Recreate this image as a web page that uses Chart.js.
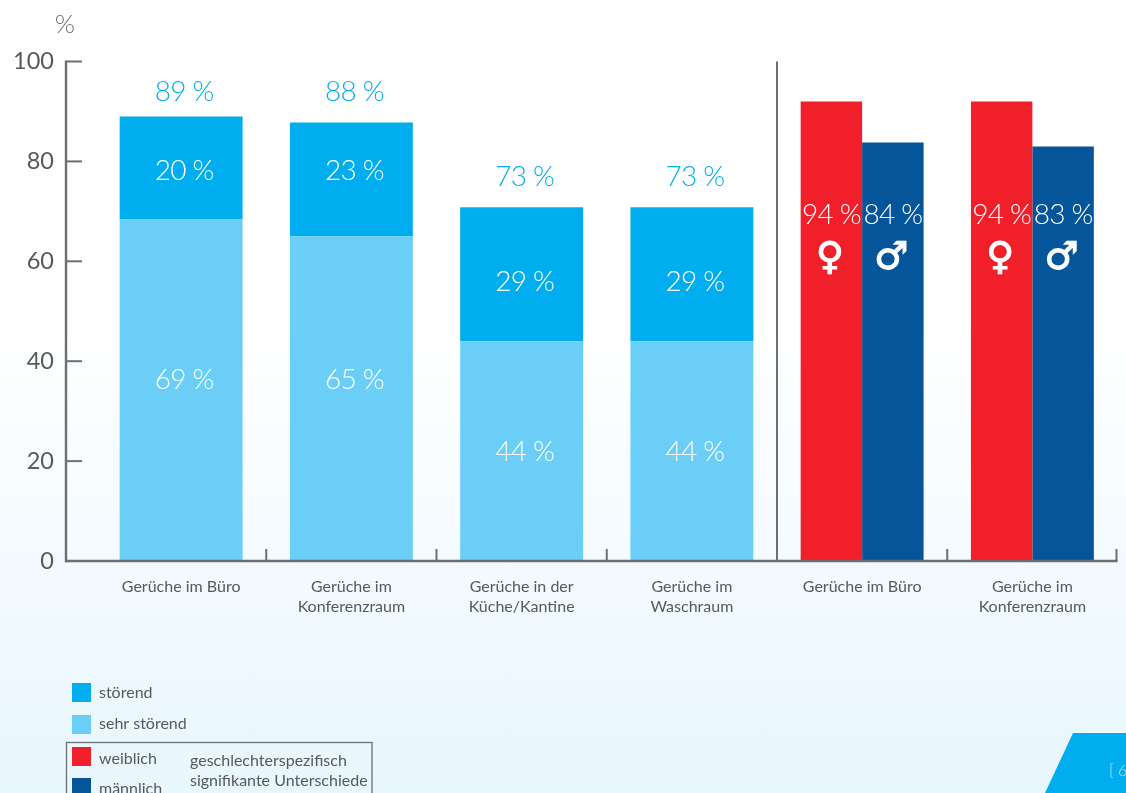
<!DOCTYPE html>
<html lang="de"><head><meta charset="utf-8">
<script src="https://cdn.jsdelivr.net/npm/chart.js@4/dist/chart.umd.min.js"></script>
<style>
html,body{margin:0;padding:0;width:1126px;height:793px;overflow:hidden;background:linear-gradient(to bottom,#fff 0,#fff 330px,#e8f6fe 793px)}
canvas{display:block}
</style></head><body>
<canvas id="c" width="1126" height="793"></canvas>
<script>
const categories=[["Gerüche im Büro"],["Gerüche im","Konferenzraum"],["Gerüche in der","Küche/Kantine"],["Gerüche im","Waschraum"],["Gerüche im Büro"],["Gerüche im","Konferenzraum"]];
const sehrStoerend=[68.4,65,44,44,null,null];
const stoerend=[20.6,22.8,26.8,26.8,null,null];
const weiblich=[null,null,null,null,92,92];
const maennlich=[null,null,null,null,83.8,83];
const yTicks=[0,20,40,60,80,100];
// printed labels differ from the bar heights in the source
const totalLabels=["89 %","88 %","73 %","73 %"];
const stoerendLabels=["20 %","23 %","29 %","29 %"];
const sehrLabels=["69 %","65 %","44 %","44 %"];
const weiblichLabels=["94 %","94 %"];
const maennlichLabels=["84 %","83 %"];
// label anchors on the value axis
const totalAt=[94,94,76.8,76.8];
const stoerendAt=[78,78,55.8,55.8];
const sehrAt=[36.2,36.2,21.8,21.8];
const genderTextAt=69.2, genderSymbolAt=60.4;

const CY="#00aeef",CL="#6bcef7",CR="#f01f2a",CD="#04559a",AX="#6d6e71",TX="#58595b";
const FONT='Lato';
const overlay={id:"overlay",
 afterDatasetsDraw(ch){
  const c=ch.ctx,x=ch.scales.x,y=ch.scales.y,B=y.getPixelForValue(0),T=y.getPixelForValue(100);
  c.save();
  c.strokeStyle=AX;c.lineWidth=2.4;c.lineCap="butt";
  const L=66;
  const line=(a,b,d,e)=>{c.beginPath();c.moveTo(a,b);c.lineTo(d,e);c.stroke();};
  line(L,T-1,L,B+1.2);line(L-1,B,x.right,B);
  yTicks.forEach(v=>{if(v>0){const p=y.getPixelForValue(v);c.lineWidth=2;line(L,p,L+16,p);}});
  c.lineWidth=2;
  for(let i=0;i<categories.length;i++){
   const b=i<categories.length-1?(x.getPixelForValue(i)+x.getPixelForValue(i+1))/2:x.right-1;
   if(i===3) line(b,T,b,B); else line(b,B,b,B-12);
  }
  c.textAlign="center";c.textBaseline="middle";
  const txt=(s,px,py,col,f)=>{c.font=f;c.fillStyle=col;c.fillText(s,px,py);};
  const F='300 28px '+FONT;
  c.letterSpacing="-0.8px";
  totalLabels.forEach((s,i)=>{const px=x.getPixelForValue(i)+3;
   txt(s,px,y.getPixelForValue(totalAt[i]),CY,F);
   txt(stoerendLabels[i],px,y.getPixelForValue(stoerendAt[i]),"#fff",F);
   txt(sehrLabels[i],px,y.getPixelForValue(sehrAt[i]),"#fff",F);
  });
  const S='bold 38px "DejaVu Sans"';
  const mW=ch.getDatasetMeta(2).data,mM=ch.getDatasetMeta(3).data;
  weiblichLabels.forEach((s,i)=>{const k=i+4;
   txt(s,mW[k].x,y.getPixelForValue(genderTextAt),"#fff",F);
   txt(maennlichLabels[i],mM[k].x,y.getPixelForValue(genderTextAt),"#fff",F);
   c.strokeStyle="#fff";c.lineWidth=1.2;
   txt("♀",mW[k].x-2,y.getPixelForValue(genderSymbolAt),"#fff",S);c.strokeText("♀",mW[k].x-2,y.getPixelForValue(genderSymbolAt));
   txt("♂",mM[k].x-2,y.getPixelForValue(genderSymbolAt),"#fff",S);c.strokeText("♂",mM[k].x-2,y.getPixelForValue(genderSymbolAt));
  });
  c.letterSpacing="0px";
  txt("%",65,25,AX,'300 26px '+FONT);
  c.textAlign="left";
  const G='16px '+FONT;
  const swatch=(col,py)=>{c.fillStyle=col;c.fillRect(72,py,19,19);};
  swatch(CY,683);txt("störend",99,693,TX,G);
  swatch(CL,715);txt("sehr störend",99,724,TX,G);
  swatch(CR,747);txt("weiblich",99,759,TX,G);
  swatch(CD,778);txt("männlich",99,789,TX,G);
  c.strokeStyle=AX;c.lineWidth=1.3;c.strokeRect(66.5,742.5,305.5,60);
  txt("geschlechterspezifisch",190,761,TX,G);
  txt("signifikante Unterschiede",190,781,TX,G);
  c.fillStyle=CY;c.beginPath();c.moveTo(1073,733);c.lineTo(1126,733);c.lineTo(1126,793);c.lineTo(1045,793);c.closePath();c.fill();
  txt("[ 6",1109,771,"#b5e5fa",'300 16px '+FONT);
  c.restore();
 }};
new Chart(document.getElementById("c"),{type:"bar",
 data:{labels:categories,datasets:[
  {label:"sehr störend",data:sehrStoerend,backgroundColor:CL,stack:"a"},
  {label:"störend",data:stoerend,backgroundColor:CY,stack:"a"},
  {label:"weiblich",data:weiblich,backgroundColor:CR,stack:"b"},
  {label:"männlich",data:maennlich,backgroundColor:CD,stack:"c"}]},
 options:{responsive:false,animation:false,
  layout:{padding:{left:0,right:8.5,top:61.5,bottom:0}},
  datasets:{bar:{skipNull:true,categoryPercentage:0.722,barPercentage:1,borderWidth:0}},
  plugins:{legend:{display:false},tooltip:{enabled:false},title:{display:false}},
  scales:{
   x:{stacked:true,grid:{display:false},border:{display:false},
      ticks:{color:TX,font:{family:FONT,size:16,lineHeight:1.3},padding:7,maxRotation:0,autoSkip:false},
      afterFit(s){s.height=232;}},
   y:{min:0,max:100,stacked:true,grid:{display:false,drawTicks:false},border:{display:false},
      afterBuildTicks(s){s.ticks=yTicks.map(v=>({value:v}));},
      ticks:{color:TX,font:{family:FONT,size:23.5},padding:42},
      afterFit(s){s.width=96;}}
  }},
 plugins:[overlay]});
</script></body></html>
